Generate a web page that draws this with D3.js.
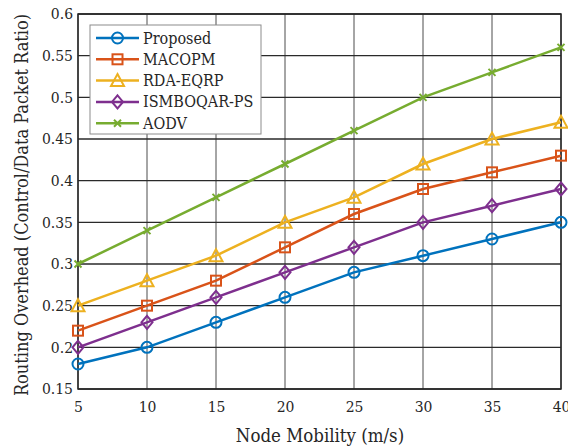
<!DOCTYPE html>
<html><head><meta charset="utf-8">
<script src="https://cdn.jsdelivr.net/npm/d3@7"></script>
<style>
body{margin:0;background:#fff;}
text{font-family:"DejaVu Serif Condensed","DejaVu Serif",serif;fill:#262626;}
</style></head><body>
<svg id="c" width="568" height="448"></svg>
<script>
const xValues = [5,10,15,20,25,30,35,40];
const seriesNames = ["Proposed","MACOPM","RDA-EQRP","ISMBOQAR-PS","AODV"];
const proposed = [0.18,0.20,0.23,0.26,0.29,0.31,0.33,0.35];
const macopm = [0.22,0.25,0.28,0.32,0.36,0.39,0.41,0.43];
const rdaEqrp = [0.25,0.28,0.31,0.35,0.38,0.42,0.45,0.47];
const ismboqar = [0.20,0.23,0.26,0.29,0.32,0.35,0.37,0.39];
const aodv = [0.30,0.34,0.38,0.42,0.46,0.50,0.53,0.56];
const yTicks = [0.15,0.2,0.25,0.3,0.35,0.4,0.45,0.5,0.55,0.6];
const xTicks = [5,10,15,20,25,30,35,40];
const colors = ["#0072BD","#D95319","#EDB120","#7E2F8E","#77AC30"];
const markers = ["circle","square","triangle","diamond","x"];
const allSeries = [proposed,macopm,rdaEqrp,ismboqar,aodv];

const svg = d3.select("#c");
const L=78,R=561,T=14,B=389;
const x = d3.scaleLinear().domain([5,40]).range([L,R]);
const y = d3.scaleLinear().domain([0.15,0.6]).range([B,T]);

// grid
const g = svg.append("g");
g.selectAll(".gx").data(xTicks).join("line").attr("x1",d=>x(d)).attr("x2",d=>x(d)).attr("y1",T).attr("y2",B).attr("stroke","#4d4d4d").attr("stroke-width",1);
g.selectAll(".gy").data(yTicks).join("line").attr("y1",d=>y(d)).attr("y2",d=>y(d)).attr("x1",L).attr("x2",R).attr("stroke","#2a2a2a").attr("stroke-width",1.3);

// axes
const xa = svg.append("g").attr("transform",`translate(0,${B})`).call(d3.axisBottom(x).tickValues(xTicks).tickFormat(d3.format("d")).tickSize(0).tickPadding(12));
const ya = svg.append("g").attr("transform",`translate(${L},0)`).call(d3.axisLeft(y).tickValues(yTicks).tickFormat(d=>String(+d.toFixed(2))).tickSize(0).tickPadding(5));
[xa,ya].forEach(a=>{a.select(".domain").remove();a.selectAll("text").attr("font-size",15.5).attr("fill","#262626").style("font-family",'"DejaVu Serif Condensed","DejaVu Serif",serif');});
svg.append("rect").attr("x",L).attr("y",T).attr("width",R-L).attr("height",B-T).attr("fill","none").attr("stroke","#262626").attr("stroke-width",1.5);

function drawMarker(sel,type,color){
  const s=5.5;
  if(type==="circle") sel.append("circle").attr("r",s).attr("fill","none").attr("stroke",color).attr("stroke-width",2);
  else if(type==="square") sel.append("rect").attr("x",-s+0.5).attr("y",-s+0.5).attr("width",2*s-1).attr("height",2*s-1).attr("fill","none").attr("stroke",color).attr("stroke-width",2);
  else if(type==="triangle") sel.append("path").attr("d",`M0,${-s-1}L${s+1},${s}L${-s-1},${s}Z`).attr("fill","none").attr("stroke",color).attr("stroke-width",2);
  else if(type==="diamond") sel.append("path").attr("d",`M0,${-s-1}L${s},0L0,${s+1}L${-s},0Z`).attr("fill","none").attr("stroke",color).attr("stroke-width",2);
  else sel.append("path").attr("d",`M-3.5,-3.5L3.5,3.5M-3.5,3.5L3.5,-3.5`).attr("stroke",color).attr("stroke-width",2);
}

const line = d3.line().x((d,i)=>x(xValues[i])).y(d=>y(d));
allSeries.forEach((vals,k)=>{
  svg.append("path").datum(vals).attr("d",line).attr("fill","none").attr("stroke",colors[k]).attr("stroke-width",2.5);
  vals.forEach((v,i)=>{
    const mg=svg.append("g").attr("transform",`translate(${x(xValues[i])},${y(v)})`);
    drawMarker(mg,markers[k],colors[k]);
  });
});

// legend
const lg = svg.append("g");
lg.append("rect").attr("x",90).attr("y",25).attr("width",171).attr("height",109).attr("fill","#fff").attr("stroke","#8c8c8c").attr("stroke-width",1);
seriesNames.forEach((n,k)=>{
  const yy=38+k*21.3;
  lg.append("line").attr("x1",96).attr("x2",139).attr("y1",yy).attr("y2",yy).attr("stroke",colors[k]).attr("stroke-width",2.5);
  const mg=lg.append("g").attr("transform",`translate(117.5,${yy})`);
  drawMarker(mg,markers[k],colors[k]);
  lg.append("text").attr("x",143).attr("y",yy+5.5).attr("font-size",16).text(n);
});

svg.append("text").attr("x",320).attr("y",442).attr("text-anchor","middle").attr("font-size",18.5).text("Node Mobility (m/s)");
svg.append("text").attr("transform","translate(28,205) rotate(-90)").attr("text-anchor","middle").attr("font-size",18).text("Routing Overhead (Control/Data Packet Ratio)");
</script></body></html>
